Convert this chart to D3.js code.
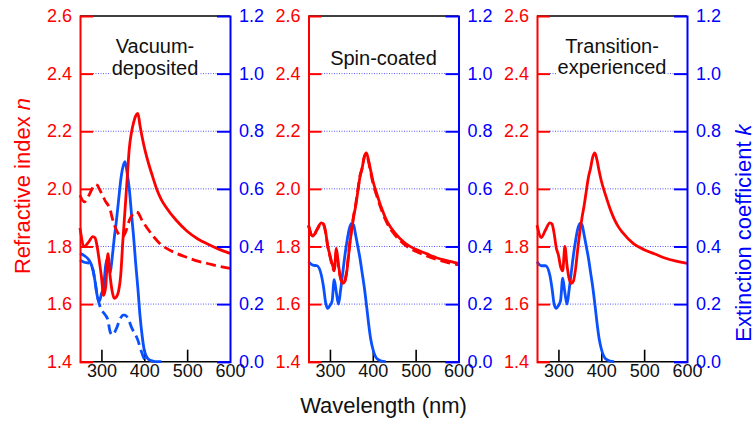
<!DOCTYPE html>
<html><head><meta charset="utf-8">
<script src="https://cdn.jsdelivr.net/npm/d3@7"></script>
<style>body{margin:0;background:#fff}svg{display:block;font-family:"Liberation Sans",Arial,sans-serif}</style>
</head><body><svg id="c" width="755" height="427"></svg>
<script>
// ---- data ----
const wavelengths = [250,260,270,280,285,290,295,300,305,310,315,320,325,330,335,340,345,350,355,360,365,370,375,380,385,390,395,400,410,420,430,440,450,475,500,525,550,575,600];

const vacN     = [1.864,1.800,1.815,1.834,1.830,1.800,1.750,1.695,1.630,1.660,1.775,1.700,1.645,1.620,1.625,1.645,1.700,1.820,1.925,2.035,2.140,2.195,2.230,2.253,2.262,2.220,2.180,2.145,2.088,2.040,1.995,1.962,1.938,1.890,1.853,1.826,1.807,1.790,1.776];
const vacNDash = [1.978,1.955,1.975,2.005,2.015,2.013,2.000,1.985,1.970,1.955,1.945,1.930,1.900,1.875,1.857,1.843,1.835,1.833,1.845,1.865,1.890,1.905,1.915,1.920,1.918,1.905,1.890,1.878,1.857,1.837,1.820,1.805,1.795,1.776,1.762,1.749,1.740,1.731,1.724];
const vacK     = [0.376,0.368,0.355,0.320,0.280,0.230,0.210,0.235,0.260,0.335,0.360,0.305,0.360,0.430,0.490,0.560,0.630,0.675,0.694,0.655,0.600,0.515,0.435,0.340,0.255,0.160,0.090,0.040,0.008,0.002,0.000,0.000,null,null,null,null,null,null,null];
const vacKDash = [0.353,0.345,0.342,0.320,0.280,0.230,0.200,0.180,0.170,0.160,0.145,0.105,0.093,0.100,0.115,0.135,0.152,0.162,0.162,0.155,0.140,0.120,0.105,0.092,0.075,0.050,0.028,0.010,0.000,null,null,null,null,null,null,null,null,null,null];

const spinN     = [1.874,1.836,1.860,1.882,1.878,1.850,1.800,1.770,1.740,1.720,1.793,1.735,1.690,1.672,1.680,1.720,1.790,1.850,1.900,1.940,1.990,2.040,2.070,2.110,2.125,2.100,2.065,2.030,1.980,1.935,1.898,1.870,1.850,1.812,1.790,1.775,1.760,1.750,1.741];
const spinNDash = [1.872,1.834,1.858,1.880,1.876,1.848,1.800,1.765,1.735,1.715,1.785,1.730,1.688,1.672,1.682,1.725,1.795,1.855,1.905,1.945,1.995,2.045,2.072,2.110,2.122,2.095,2.058,2.022,1.972,1.928,1.891,1.863,1.843,1.805,1.783,1.768,1.754,1.744,1.736];
const spinK     = [0.347,0.335,0.333,0.300,0.260,0.205,0.185,0.195,0.210,0.285,0.240,0.200,0.250,0.310,0.370,0.420,0.460,0.480,0.475,0.440,0.400,0.360,0.310,0.260,0.200,0.135,0.080,0.045,0.010,0.002,0.000,null,null,null,null,null,null,null,null];

const transN = [1.874,1.831,1.858,1.882,1.878,1.845,1.795,1.770,1.730,1.715,1.800,1.735,1.688,1.672,1.680,1.722,1.790,1.850,1.900,1.942,1.992,2.040,2.072,2.110,2.125,2.100,2.062,2.028,1.978,1.933,1.896,1.868,1.848,1.810,1.789,1.774,1.759,1.749,1.741];
const transK = [0.347,0.333,0.333,0.300,0.255,0.200,0.185,0.195,0.212,0.290,0.240,0.200,0.250,0.310,0.370,0.420,0.460,0.480,0.475,0.440,0.400,0.360,0.310,0.260,0.200,0.135,0.080,0.045,0.010,0.002,0.000,null,null,null,null,null,null,null,null];

const panelLabels = [["Vacuum-","deposited"],["Spin-coated"],["Transition-","experienced"]];
const nTicks = [1.4,1.6,1.8,2.0,2.2,2.4,2.6];
const kTicks = [0.0,0.2,0.4,0.6,0.8,1.0,1.2];
const xTicks = [300,400,500,600];
const xLabel = "Wavelength (nm)";
const yLeftLabel = "Refractive index ";
const yRightLabel = "Extinction coefficient ";

// ---- layout ----
const RED = "#ff0000", BLUE_AX = "#0000ff", BLUE = "#0a50ff";
const W = 150, TOP = 16, BOT = 361.7;
const panelX = [80, 308.5, 537];
const panels = [
  {label: panelLabels[0], n: [vacN, vacNDash], k: [vacK, vacKDash], labelY: [53, 75]},
  {label: panelLabels[1], n: [spinN, spinNDash], k: [spinK], labelY: [65]},
  {label: panelLabels[2], n: [transN], k: [transK], labelY: [53, 74]}
];

const svg = d3.select("#c");
const x = d3.scaleLinear().domain([250, 600]).range([0, W]);
const yN = d3.scaleLinear().domain([1.4, 2.6]).range([BOT, TOP]);
const yK = d3.scaleLinear().domain([0, 1.2]).range([BOT, TOP]);
const f1 = d3.format(".1f");

panels.forEach((p, i) => {
  const g = svg.append("g").attr("transform", `translate(${panelX[i]},0)`);

  // grid
  g.selectAll("line.grid").data(nTicks.slice(1, -1)).join("line")
    .attr("class", "grid")
    .attr("x1", 13).attr("x2", W - 13)
    .attr("y1", d => yN(d)).attr("y2", d => yN(d))
    .attr("stroke", "#5a5aff").attr("stroke-width", 1).attr("stroke-dasharray", "1,1.5");

  // panel label with white background
  const lg = g.append("g");
  const txt = lg.append("text").attr("text-anchor", "middle").attr("font-size", 20).attr("fill", "#111");
  p.label.forEach((s, j) => txt.append("tspan").attr("x", W / 2).attr("y", p.labelY[j]).text(s));
  const bb = txt.node().getBBox();
  lg.insert("rect", "text").attr("x", bb.x - 1).attr("y", bb.y).attr("width", bb.width + 2).attr("height", bb.height).attr("fill", "#fff");

  // bottom axis
  const bx = g.append("g").attr("transform", `translate(0,${BOT})`)
    .call(d3.axisBottom(x).tickValues(xTicks).tickSize(-12).tickPadding(3));
  bx.select(".domain").remove();
  bx.selectAll(".tick line").attr("stroke", "#000").attr("stroke-width", 1.6)
    .filter(d => d === 600).remove();
  bx.selectAll("text").attr("font-size", 18).attr("fill", "#111").attr("font-family", "Liberation Sans, Arial, sans-serif");
  g.append("line").attr("x1", 0).attr("x2", W).attr("y1", BOT).attr("y2", BOT).attr("stroke", "#000").attr("stroke-width", 1.6);

  // curves
  const lineK = d3.line().defined(d => d[1] != null).x(d => x(d[0])).y(d => yK(d[1])).curve(d3.curveMonotoneX);
  const lineN = d3.line().defined(d => d[1] != null).x(d => x(d[0])).y(d => yN(d[1])).curve(d3.curveMonotoneX);
  p.k.forEach((arr, j) => {
    g.append("path").datum(wavelengths.map((w, m) => [w, arr[m]]))
      .attr("d", lineK).attr("fill", "none").attr("stroke", BLUE).attr("stroke-width", 2.8)
      .attr("stroke-linejoin", "round")
      .attr("stroke-dasharray", j === 1 ? "10,5" : null);
  });
  p.n.forEach((arr, j) => {
    g.append("path").datum(wavelengths.map((w, m) => [w, arr[m]]))
      .attr("d", lineN).attr("fill", "none").attr("stroke", RED).attr("stroke-width", 2.8)
      .attr("stroke-linejoin", "round")
      .attr("stroke-dasharray", j === 1 ? "10,5" : null);
  });

  // top line
  g.append("line").attr("x1", 0).attr("x2", W).attr("y1", TOP).attr("y2", TOP).attr("stroke", "#000").attr("stroke-width", 1.6);

  // left axis (n)
  const la = g.append("g").call(d3.axisLeft(yN).tickValues(nTicks).tickSize(-13).tickPadding(8).tickFormat(f1));
  la.select(".domain").attr("stroke", RED).attr("stroke-width", 2);
  la.selectAll(".tick line").attr("stroke", RED).attr("stroke-width", 2).filter(d => d === 2.6).remove();
  la.selectAll("text").attr("font-size", 18).attr("fill", RED).attr("font-family", "Liberation Sans, Arial, sans-serif");

  // right axis (k)
  const ra = g.append("g").attr("transform", `translate(${W},0)`)
    .call(d3.axisRight(yK).tickValues(kTicks).tickSize(-13).tickPadding(9).tickFormat(f1));
  ra.select(".domain").attr("stroke", BLUE_AX).attr("stroke-width", 2);
  ra.selectAll(".tick line").attr("stroke", BLUE_AX).attr("stroke-width", 2).filter(d => d === 1.2).remove();
  ra.selectAll("text").attr("font-size", 18).attr("fill", BLUE_AX).attr("font-family", "Liberation Sans, Arial, sans-serif");
});

// axis titles
svg.append("text").attr("x", panelX[1] + W / 2).attr("y", 413).attr("text-anchor", "middle")
  .attr("font-size", 22).attr("fill", "#111").text(xLabel);

const lt = svg.append("text").attr("transform", "translate(22,186) rotate(-90)")
  .attr("text-anchor", "middle").attr("dominant-baseline", "central").attr("font-size", 22).attr("fill", RED);
lt.append("tspan").text(yLeftLabel);
lt.append("tspan").attr("font-style", "italic").text("n");

const rt = svg.append("text").attr("transform", "translate(743,233) rotate(-90)")
  .attr("text-anchor", "middle").attr("dominant-baseline", "central").attr("font-size", 22).attr("fill", BLUE_AX);
rt.append("tspan").text(yRightLabel);
rt.append("tspan").attr("font-style", "italic").text("k");
</script>
</body></html>
